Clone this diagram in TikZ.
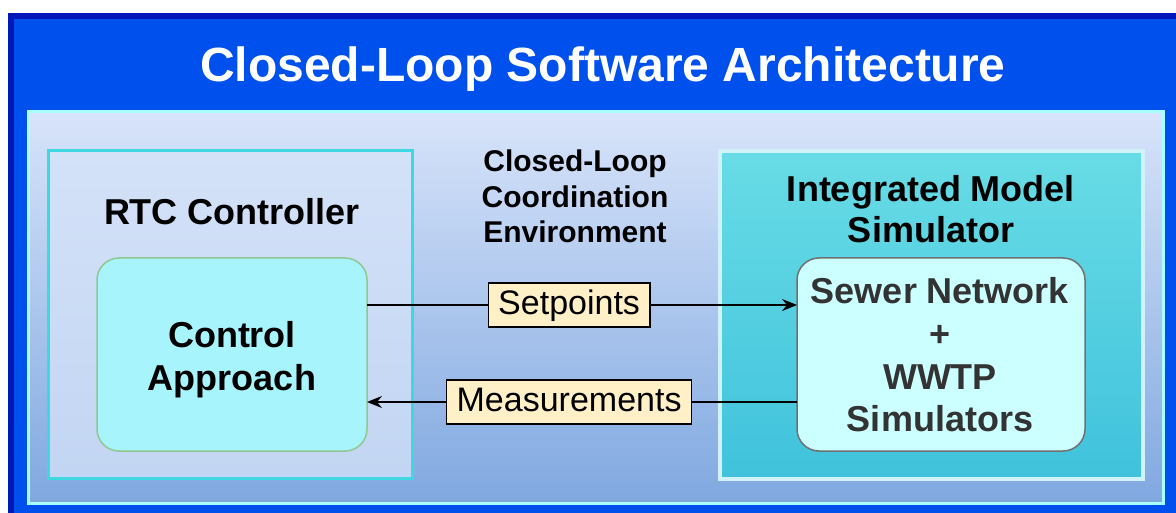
\documentclass[tikz,border=0pt]{standalone}
\usepackage{fontspec}
\setmainfont{Liberation Sans}
\usetikzlibrary{arrows.meta}
\definecolor{outerdark}{HTML}{0018B8}
\definecolor{outerblue}{HTML}{0050EE}
\definecolor{innertop}{HTML}{D8E4FA}
\definecolor{innerbot}{HTML}{80A8E0}
\definecolor{innerline}{HTML}{A8FFFF}
\definecolor{lefttop}{HTML}{D4E2F8}
\definecolor{leftbot}{HTML}{C2D5F2}
\definecolor{leftline}{HTML}{40D8E0}
\definecolor{righttop}{HTML}{68DCE6}
\definecolor{rightbot}{HTML}{40C2DC}
\definecolor{rightline}{HTML}{D0F2F8}
\definecolor{ctrlfill}{HTML}{A8F4FC}
\definecolor{ctrlline}{HTML}{90C890}
\definecolor{sewfill}{HTML}{CCFFFF}
\definecolor{sewline}{HTML}{707070}
\definecolor{labfill}{HTML}{FFF0C8}
\definecolor{sewtext}{HTML}{333333}
\tikzset{
  innerbox/.style={rounded corners=22pt, line width=1.5pt},
  lbl/.style={draw=black, line width=1.4pt, fill=labfill, font=\fontsize{34}{40}\selectfont,
    inner xsep=10pt, minimum height=44pt, text height=25pt, text depth=7pt},
  conn/.style={line width=1.4pt, -{Stealth[length=15pt,width=12pt,inset=5pt]}},
  boldtxt/.style={font=\bfseries\fontsize{36}{43}\selectfont, align=center, anchor=base},
}
\begin{document}
\begin{tikzpicture}[x=1pt,y=-1pt]
\useasboundingbox (0,0) rectangle (1176,513);
\begin{scope}
\clip (0,0) rectangle (1176,513);
% outer frame
\fill[outerdark] (8,13) rectangle (1220,560);
\fill[outerblue] (13.5,19) rectangle (1220,560);
\end{scope}
% title
\node[font=\bfseries\fontsize{48}{56}\selectfont, text=white, anchor=base] (title) at (603,82) {Closed-Loop Software Architecture};
% inner environment
\shade[top color=innertop, bottom color=innerbot] (28.5,111.5) rectangle (1163.5,503.5);
\draw[innerline, line width=3pt] (28.5,111.5) rectangle (1163.5,503.5);
% left box
\shade[top color=lefttop, bottom color=leftbot] (48.5,150.5) rectangle (412.5,478.5);
\draw[leftline, line width=3pt] (48.5,150.5) rectangle (412.5,478.5);
\node[boldtxt] (rtc) at (232,225) {RTC Controller};
% right box
\shade[top color=righttop, bottom color=rightbot] (720,151) rectangle (1143,479);
\draw[rightline, line width=4pt] (720,151) rectangle (1143,479);
\node[boldtxt] (ims1) at (931,202) {Integrated Model};
\node[boldtxt] (ims2) at (931,243) {Simulator};
% middle text
\node[font=\bfseries\fontsize{30}{36}\selectfont, anchor=base] (cl1) at (575,172) {Closed-Loop};
\node[font=\bfseries\fontsize{30}{36}\selectfont, anchor=base] (cl2) at (575,208) {Coordination};
\node[font=\bfseries\fontsize{30}{36}\selectfont, anchor=base] (cl3) at (575,243) {Environment};
% control approach
\draw[innerbox, draw=ctrlline, fill=ctrlfill] (97,258) rectangle (367,451);
\coordinate (ctrlR1) at (367,305);
\coordinate (ctrlR2) at (367,402);
\node[boldtxt] (ctrl1) at (232,347) {Control};
\node[boldtxt] (ctrl2) at (232,390) {Approach};
% sewer box
\draw[innerbox, draw=sewline, fill=sewfill] (797,258) rectangle (1085,451);
\coordinate (sewL1) at (797,305);
\coordinate (sewL2) at (797,402);
\node[boldtxt, text=sewtext] (sw1) at (940,304) {Sewer Network};
\node[boldtxt, text=sewtext] (sw2) at (940,346.5) {+};
\node[boldtxt, text=sewtext] (sw3) at (940,389) {WWTP};
\node[boldtxt, text=sewtext] (sw4) at (940,431.5) {Simulators};
% connectors
\draw[conn] (ctrlR1) -- node[lbl, pos=0.47] (sp) {Setpoints} (sewL1);
\draw[conn] (sewL2) -- node[lbl, pos=0.53] (ms) {Measurements} (ctrlR2);
\end{tikzpicture}
\end{document}
